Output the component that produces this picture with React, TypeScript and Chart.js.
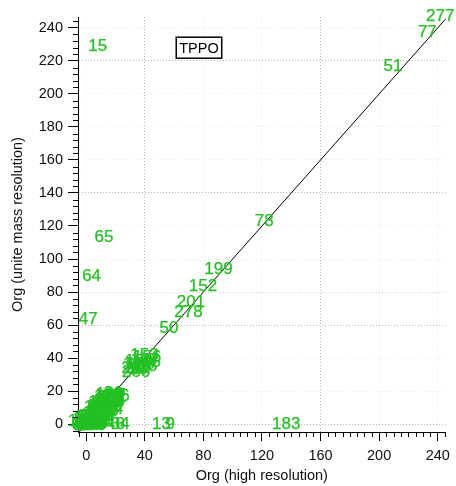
import React, { useEffect, useRef } from "react";
import { Chart, registerables } from "chart.js";

Chart.register(...registerables);

const FONT = "'Liberation Sans', Arial, Helvetica, sans-serif";
const GREEN = "rgb(36,192,36)";

// Isolated labelled points
const outlierNames = ["15", "277", "77", "51", "78", "199", "152", "201", "278", "50", "65", "64", "47", "183", "13", "9", "48", "34"];
const outlierX = [7.9, 241.7, 232.9, 209.4, 121.6, 90.3, 79.7, 71.5, 69.8, 56.5, 12.1, 3.7, 1.4, 136.6, 51.3, 57.4, 20.0, 23.2];
const outlierY = [229, 246.8, 237.5, 217, 122.8, 93.8, 83.6, 73.5, 68, 58.3, 113.3, 89.8, 63.6, 0, 0, 0, 0, 0];

// Group around 30-45
const midNames = ["153", "156", "19", "188", "15", "26", "266", "29", "18", "186", "30", "157", "28"];
const midX = [39.8, 41.5, 31.5, 37, 44.5, 30.5, 34, 37.5, 42, 36, 33, 40, 35.5];
const midY = [41.8, 40.5, 36.5, 36.5, 37.5, 33.5, 31.2, 34, 35, 38, 34, 38.5, 33];

// Dense group near the origin
const denseNames = ["168", "21", "17", "9", "142", "35", "58", "117", "82", "6", "233", "44", "101", "27", "190", "12", "88", "250", "3", "131", "66", "205", "19", "97", "40", "164", "73", "226", "8", "110", "31", "259", "56", "2", "185", "120", "71", "244", "14", "93", "212", "37", "155", "5", "268", "80"];
const denseX = [16, 18.5, 20.5, 14, 16.5, 19.5, 12.5, 15, 18, 10.5, 13, 16, 8, 11, 14.5, 6, 9, 12.5, 4, 7, 10, 2, 5, 8.5, 0, 3, 6, 9, -2.5, 0, 2.5, 5, 8, -1, 3.5, -3, 1, 4, 7.5, 11.5, 17.5, 14, 9.5, 12, 6.5, -1.5];
const denseY = [18, 18.5, 17.5, 16, 16, 15.5, 14, 14.5, 13.5, 12, 12.5, 11.5, 10, 10.5, 10, 8, 8.5, 8, 6, 6.5, 5.5, 4, 4.5, 4, 2, 2.5, 2, 1.5, 0, 0.5, 0, 0.5, 0, -1, -1, 1.5, 3.5, 5, 9, 14, 16.5, 12, 11, 9, 5, 2.5];

// More points filling the same group
const fillNames = ["145", "23", "176", "11", "209", "62", "34", "127", "24", "198", "16", "49", "239", "103", "7", "86", "171", "38", "124", "4", "60", "215", "95", "1", "139", "25", "77", "247", "10", "52", "182", "33", "264", "105", "20", "69", "147", "46"];
const fillX = [15, 17.5, 20, 13, 15.5, 18.5, 20.5, 11, 14, 16.5, 19, 9, 12, 15, 17, 7, 10, 13, 15.5, 5, 8, 11, 13, 3, 6, 9, 11, 1, 4, 7, 9.5, -1, 1.5, 4, 6.5, -3.5, 1, 7];
const fillY = [17, 17, 17, 15, 15, 15, 15, 13, 13, 13, 13, 11, 11, 11, 11, 9, 9, 9, 9, 7, 7, 7, 7, 5, 5, 5, 5, 3, 3, 3, 3, 1, 1, 1, 1, -0.5, -0.5, -0.5];

// 1:1 line
const lineX = [-6, 250];
const lineY = [-6, 250];

// Axes
const xMin = -5.6, xMax = 245.4;
const yMin = -4.8, yMax = 246.6;
const xTicks = [0, 40, 80, 120, 160, 200, 240];
const yTicks = [0, 20, 40, 60, 80, 100, 120, 140, 160, 180, 200, 220, 240];
const xMinorStep = 5;
const yMinorStep = 4;
const xStrongGrid = [40, 160];
const yStrongGrid = [0, 60, 140, 220];
const yMediumGrid = [80];

const boxText = "TPPO";
const boxX = 77;
const boxY = 228;

const pts = (xs: number[], ys: number[]) => xs.map((x, i) => ({ x, y: ys[i] }));

const textLabels = {
  id: "textLabels",
  afterDatasetsDraw(chart: any) {
    const ctx = chart.ctx;
    ctx.save();
    ctx.font = `17px ${FONT}`;
    ctx.fillStyle = GREEN;
    ctx.strokeStyle = GREEN;
    ctx.lineWidth = 0.25;
    ctx.textAlign = "center";
    ctx.textBaseline = "middle";
    chart.data.datasets.forEach((ds: any, i: number) => {
      if (!ds.names) return;
      const meta = chart.getDatasetMeta(i);
      meta.data.forEach((el: any, j: number) => {
        ctx.fillText(ds.names[j], el.x, el.y);
        ctx.strokeText(ds.names[j], el.x, el.y);
      });
    });
    ctx.restore();
  },
};

const extras = {
  id: "extras",
  afterDraw(chart: any) {
    const ctx = chart.ctx;
    const x = chart.scales.x;
    const y = chart.scales.y;
    const area = chart.chartArea;
    ctx.save();
    ctx.strokeStyle = "#000";
    ctx.lineWidth = 1;
    ctx.setLineDash([]);
    ctx.beginPath();
    for (let v = Math.ceil(xMin / xMinorStep) * xMinorStep; v <= xMax; v += xMinorStep) {
      if (xTicks.includes(v)) continue;
      const px = Math.round(x.getPixelForValue(v)) + 0.5;
      ctx.moveTo(px, area.bottom);
      ctx.lineTo(px, area.bottom + 5);
    }
    for (let v = Math.ceil(yMin / yMinorStep) * yMinorStep; v <= yMax; v += yMinorStep) {
      if (yTicks.includes(v)) continue;
      const py = Math.round(y.getPixelForValue(v)) + 0.5;
      ctx.moveTo(area.left, py);
      ctx.lineTo(area.left - 5, py);
    }
    ctx.stroke();

    // annotation box
    ctx.font = `14.5px ${FONT}`;
    const w = ctx.measureText(boxText).width + 6;
    const h = 21;
    const cx = x.getPixelForValue(boxX);
    const cy = y.getPixelForValue(boxY);
    ctx.fillStyle = "#fff";
    ctx.fillRect(cx - w / 2, cy - h / 2, w, h);
    ctx.lineWidth = 1.5;
    ctx.strokeRect(cx - w / 2, cy - h / 2, w, h);
    ctx.fillStyle = "#000";
    ctx.textAlign = "center";
    ctx.textBaseline = "middle";
    ctx.fillText(boxText, cx, cy + 1);
    ctx.restore();
  },
};

export default function App() {
  const ref = useRef<HTMLCanvasElement>(null);
  useEffect(() => {
    document.body.style.margin = "0";
    const canvas = ref.current!;
    const scatter = (names: string[], xs: number[], ys: number[]) => ({
      type: "scatter" as const,
      names,
      data: pts(xs, ys),
      pointRadius: 0,
      pointHoverRadius: 0,
      showLine: false,
    });
    const chart = new Chart(canvas, {
      type: "scatter",
      data: {
        datasets: [
          {
            type: "line",
            data: pts(lineX, lineY),
            borderColor: "#000",
            borderWidth: 1,
            pointRadius: 0,
            fill: false,
            tension: 0,
          } as any,
          scatter(outlierNames, outlierX, outlierY) as any,
          scatter(midNames, midX, midY) as any,
          scatter(denseNames, denseX, denseY) as any,
          scatter(fillNames, fillX, fillY) as any,
        ],
      },
      options: {
        animation: false,
        responsive: false,
        maintainAspectRatio: false,
        events: [],
        layout: { padding: { left: 0, right: 8, top: 17, bottom: 0 } },
        plugins: { legend: { display: false }, tooltip: { enabled: false } },
        scales: {
          x: {
            type: "linear",
            min: xMin,
            max: xMax,
            afterFit: (s: any) => {
              s.height = 54;
            },
            afterBuildTicks: (s: any) => {
              s.ticks = xTicks.map((v) => ({ value: v }));
            },
            ticks: {
              font: { size: 14.5, family: FONT },
              color: "#111",
              padding: 6,
              maxRotation: 0,
              autoSkip: false,
            },
            grid: {
              color: (c: any) => (c.tick && xStrongGrid.includes(c.tick.value) ? "#b4b4b4" : "#ececec"),
              lineWidth: 1,
              tickLength: 9,
              tickColor: "#000",
              tickWidth: 1,
              tickBorderDash: [],
            },
            border: { color: "#000", width: 1, dash: [1, 2] },
            title: {
              display: true,
              text: "Org (high resolution)",
              font: { size: 14.5, family: FONT },
              color: "#111",
              padding: { top: 0, bottom: 1 },
            },
          },
          y: {
            type: "linear",
            min: yMin,
            max: yMax,
            afterFit: (s: any) => {
              s.width = 78;
            },
            afterBuildTicks: (s: any) => {
              s.ticks = yTicks.map((v) => ({ value: v }));
            },
            ticks: {
              font: { size: 14.5, family: FONT },
              color: "#111",
              padding: 5,
              autoSkip: false,
            },
            grid: {
              color: (c: any) =>
                c.tick && yStrongGrid.includes(c.tick.value)
                  ? "#b4b4b4"
                  : c.tick && yMediumGrid.includes(c.tick.value)
                  ? "#d0d0d0"
                  : "#ececec",
              lineWidth: 1,
              tickLength: 10,
              tickColor: "#000",
              tickWidth: 1,
              tickBorderDash: [],
            },
            border: { color: "#000", width: 1, dash: [1, 2] },
            title: {
              display: true,
              text: "Org (unite mass resolution)",
              font: { size: 14.5, family: FONT },
              color: "#111",
              padding: { top: 9, bottom: 0 },
            },
          },
        },
      } as any,
      plugins: [textLabels, extras],
    });
    return () => chart.destroy();
  }, []);
  return (
    <div style={{ position: "absolute", left: 0, top: 0, width: 456, height: 486, background: "#fff" }}>
      <canvas ref={ref} width={456} height={486} style={{ width: 456, height: 486, display: "block" }} />
    </div>
  );
}
